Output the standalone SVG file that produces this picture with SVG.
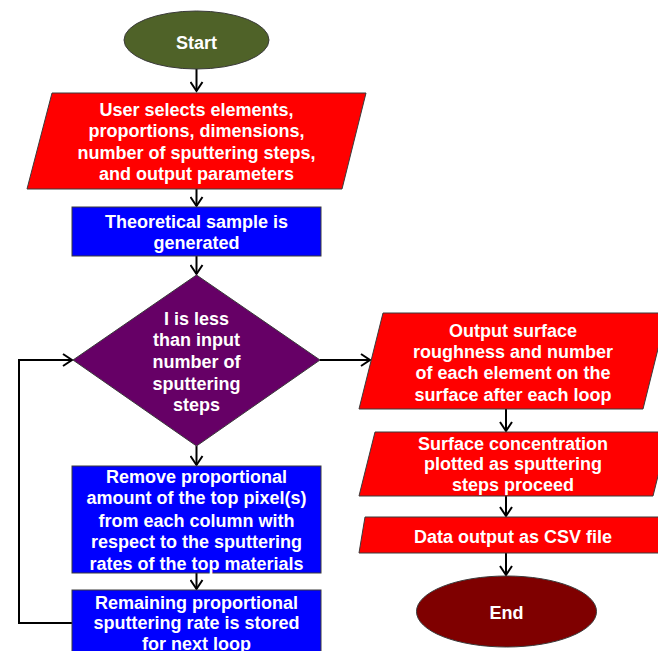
<svg xmlns="http://www.w3.org/2000/svg" width="658" height="651" viewBox="0 0 658 651">
<defs>
<style>
.sh{stroke:#3a3a3a;stroke-width:1}
.t{font-family:"Liberation Sans",Arial,sans-serif;font-weight:bold;font-size:18px;fill:#fff;text-anchor:middle}
.c{fill:none;stroke:#000;stroke-width:2}
</style>
<marker id="ah" markerUnits="userSpaceOnUse" markerWidth="14" markerHeight="14" viewBox="-12 -7 14 14" refX="0" refY="0" orient="auto">
<polyline points="-9,-6 0,0 -9,6" fill="none" stroke="#000" stroke-width="2"/>
</marker>
</defs>
<rect width="658" height="651" fill="#fff"/>
<g id="connectors">
<line class="c" x1="196.5" y1="69" x2="196.5" y2="91" marker-end="url(#ah)"/>
<line class="c" x1="196.5" y1="189" x2="196.5" y2="206" marker-end="url(#ah)"/>
<line class="c" x1="196.5" y1="256" x2="196.5" y2="274" marker-end="url(#ah)"/>
<line class="c" x1="196.5" y1="446" x2="196.5" y2="465" marker-end="url(#ah)"/>
<line class="c" x1="196.5" y1="573" x2="196.5" y2="589" marker-end="url(#ah)"/>
<line class="c" x1="320" y1="360" x2="370" y2="360" marker-end="url(#ah)"/>
<line class="c" x1="506" y1="409" x2="506" y2="431" marker-end="url(#ah)"/>
<line class="c" x1="506" y1="496" x2="506" y2="516" marker-end="url(#ah)"/>
<line class="c" x1="506" y1="553" x2="506" y2="575" marker-end="url(#ah)"/>
<polyline class="c" points="72,623 19,623 19,360 72,360" marker-end="url(#ah)"/>
</g>
<g id="start">
<ellipse class="sh" cx="196.5" cy="40" rx="72.5" ry="29" fill="#4F6228"/>
<text class="t" x="196.5" y="49">Start</text>
</g>
<g id="input">
<polygon class="sh" points="52,93 366,93 342,189 27,189" fill="#FF0000"/>
<text class="t" x="196.5" y="116">User selects elements,</text>
<text class="t" x="196.5" y="137">proportions, dimensions,</text>
<text class="t" x="196.5" y="159">number of sputtering steps,</text>
<text class="t" x="196.5" y="180">and output parameters</text>
</g>
<g id="generate">
<rect class="sh" x="72" y="207" width="249" height="49" fill="#0000FF"/>
<text class="t" x="196.5" y="228">Theoretical sample is</text>
<text class="t" x="196.5" y="249">generated</text>
</g>
<g id="decision">
<polygon class="sh" points="196.5,275 320,360 196.5,446 73,360" fill="#660066"/>
<text class="t" x="196.5" y="325">I is less</text>
<text class="t" x="196.5" y="346">than input</text>
<text class="t" x="196.5" y="368">number of</text>
<text class="t" x="196.5" y="390">sputtering</text>
<text class="t" x="196.5" y="411">steps</text>
</g>
<g id="remove">
<rect class="sh" x="72" y="466" width="249" height="107" fill="#0000FF"/>
<text class="t" x="196.5" y="483">Remove proportional</text>
<text class="t" x="196.5" y="504">amount of the top pixel(s)</text>
<text class="t" x="196.5" y="527">from each column with</text>
<text class="t" x="196.5" y="548">respect to the sputtering</text>
<text class="t" x="196.5" y="570">rates of the top materials</text>
</g>
<g id="remaining">
<rect class="sh" x="72" y="590" width="249" height="70" fill="#0000FF"/>
<text class="t" x="196.5" y="609">Remaining proportional</text>
<text class="t" x="196.5" y="629">sputtering rate is stored</text>
<text class="t" x="196.5" y="650">for next loop</text>
</g>
<g id="output">
<polygon class="sh" points="383,313 667,313 643,409 359,409" fill="#FF0000"/>
<text class="t" x="513" y="337">Output surface</text>
<text class="t" x="513" y="358">roughness and number</text>
<text class="t" x="513" y="379">of each element on the</text>
<text class="t" x="513" y="401">surface after each loop</text>
</g>
<g id="plot">
<polygon class="sh" points="375,432 669,432 653,496 359,496" fill="#FF0000"/>
<text class="t" x="513" y="450">Surface concentration</text>
<text class="t" x="513" y="470">plotted as sputtering</text>
<text class="t" x="513" y="491">steps proceed</text>
</g>
<g id="csv">
<polygon class="sh" points="365,517 668,517 659,553 359,553" fill="#FF0000"/>
<text class="t" x="513" y="543">Data output as CSV file</text>
</g>
<g id="end">
<ellipse class="sh" cx="506.5" cy="611.5" rx="90" ry="35.5" fill="#7F0000"/>
<text class="t" x="506.5" y="619">End</text>
</g>
</svg>
